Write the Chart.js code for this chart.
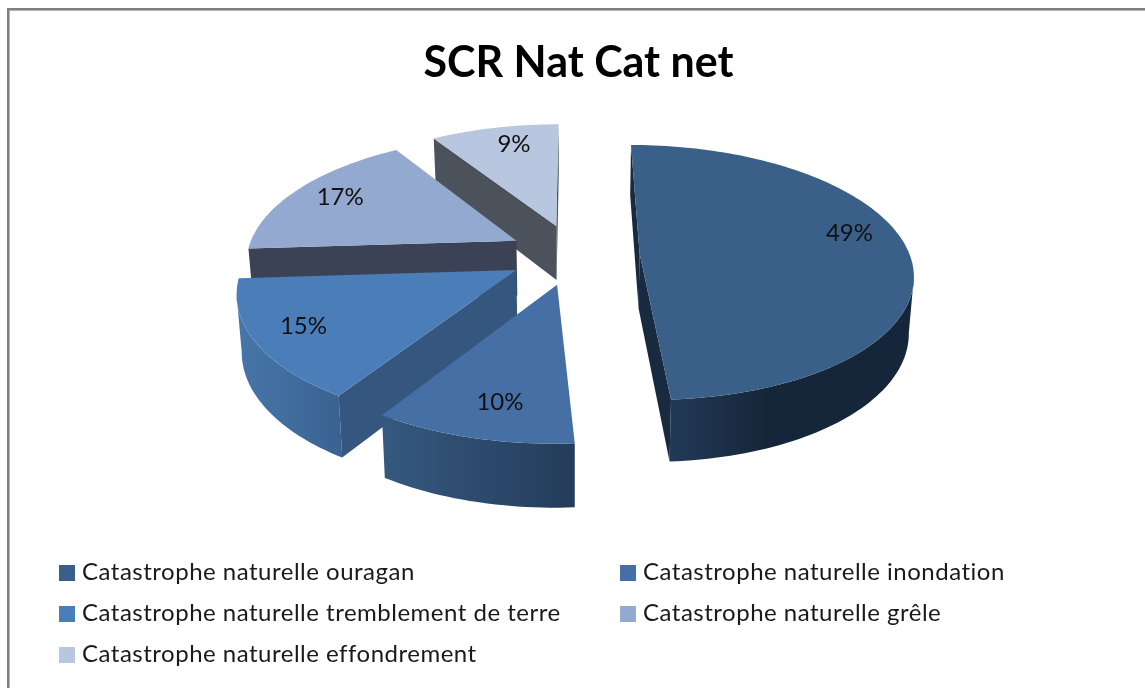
<!DOCTYPE html>
<html>
<head>
<meta charset="utf-8">
<title>SCR Nat Cat net</title>
<script src="https://cdn.jsdelivr.net/npm/chart.js@4"></script>
<style>
  html, body { margin: 0; padding: 0; background: #fff; overflow: hidden; width: 1145px; height: 688px; }
  #sheet { position: absolute; left: 7px; top: 8px; width: 1200px; height: 760px; border: 2px solid #808080; box-shadow: inset 1px 1px 0 #b4b4b4; }
  canvas { position: absolute; left: 0; top: 0; }
</style>
</head>
<body>
<div id="sheet"></div>
<canvas id="myChart" width="1145" height="688"></canvas>
<script>
var categories = [
  "Catastrophe naturelle ouragan",
  "Catastrophe naturelle inondation",
  "Catastrophe naturelle tremblement de terre",
  "Catastrophe naturelle grêle",
  "Catastrophe naturelle effondrement"
];
var shares = [49, 10, 15, 17, 9];

var topColors = ["#3a6089", "#4670a5", "#4b7eb9", "#93a9cf", "#b9c6df"];
var rimColors = [["#223a57", "#16263a"], ["#35597f", "#243c5b"], ["#4776aa", "#3a6291"], ["#3b4255", "#3b4255"], ["#4b525b", "#4b525b"]];
var faceColors = ["#182a40", "#2f5078", "#35567f", "#3b4255", "#4b525b"];
var labelAlong = [0.445, 0.45, 0.52, 0.52, 0.58];
var labelOut = [0.82, 0.79, 0.82, 0.81, 0.8];

// fake 3d: camera looks down on the pie, front of it gets bigger
var pieRadius = 274, squeezeX = 0.985, tilt = 0.4557, viewDist = 1827, depth = 55.3, shiftX = -4.5;

function project(arc, X, Y, down) {
  var s = 1 / (1 - Y / viewDist);
  var cx = arc.x + shiftX;
  var x = cx + X * s * squeezeX;
  var y = arc.y + tilt * Y * s;
  if (down) {
    x = cx + (x - cx) * 0.985;
    y += depth * Math.pow(s, 0.71);
  }
  return { x: x, y: y };
}

function apexOf(arc) {
  var mid = (arc.startAngle + arc.endAngle) / 2;
  var e = arc.options.offset * pieRadius / arc.outerRadius;
  return { X: e * Math.cos(mid), Y: e * Math.sin(mid) };
}

function rimOf(arc, angle) {
  var c = apexOf(arc);
  return { X: c.X + pieRadius * Math.cos(angle), Y: c.Y + pieRadius * Math.sin(angle) };
}

function fillPoly(ctx, pts, fill) {
  ctx.beginPath();
  pts.forEach(function (p, i) { i ? ctx.lineTo(p.x, p.y) : ctx.moveTo(p.x, p.y); });
  ctx.closePath();
  ctx.fillStyle = fill;
  ctx.fill();
}

function drawSlice(ctx, arc, i) {
  var c = apexOf(arc);
  var steps = Math.max(8, Math.round((arc.endAngle - arc.startAngle) * 40));
  var rim = [];
  for (var k = 0; k <= steps; k++) {
    var p = rimOf(arc, arc.startAngle + (arc.endAngle - arc.startAngle) * k / steps);
    rim.push({ top: project(arc, p.X, p.Y, false), low: project(arc, p.X, p.Y, true) });
  }
  var apexTop = project(arc, c.X, c.Y, false);
  var apexLow = project(arc, c.X, c.Y, true);
  var inside = rim[Math.floor(steps / 2)].top;

  // outer wall, only the part that turns to the viewer
  var from = -1, to = -1;
  for (k = 0; k < steps; k++) {
    if (rim[k + 1].top.x < rim[k].top.x) {
      if (from < 0) from = k;
      to = k + 1;
    }
  }
  if (from >= 0) {
    var seg = rim.slice(from, to + 1);
    var wall = seg.map(function (r) { return r.top; }).concat(seg.map(function (r) { return r.low; }).reverse());
    var xs = wall.map(function (p) { return p.x; });
    var grad = ctx.createLinearGradient(Math.min.apply(null, xs), 0, Math.max.apply(null, xs), 0);
    grad.addColorStop(0, rimColors[i][0]);
    grad.addColorStop(i === 0 ? 0.4 : 1, rimColors[i][1]);
    fillPoly(ctx, wall, grad);
  }

  // the two cut faces, if they look at us
  [rim[0], rim[steps]].forEach(function (r) {
    var dx = r.top.x - apexTop.x, dy = r.top.y - apexTop.y;
    var sideIn = dx * (inside.y - apexTop.y) - dy * (inside.x - apexTop.x);
    var sideDown = dx;
    if (sideIn * sideDown < 0) {
      fillPoly(ctx, [apexTop, r.top, r.low, apexLow], faceColors[i]);
    }
  });

  var face = [apexTop].concat(rim.map(function (r) { return r.top; }));
  fillPoly(ctx, face, topColors[i]);
}

var pie3d = {
  id: "pie3d",
  beforeDatasetsDraw: function (chart) {
    var ctx = chart.ctx;
    var arcs = chart.getDatasetMeta(0).data;
    // back to front
    [4, 3, 2, 1, 0].forEach(function (i) { drawSlice(ctx, arcs[i], i); });

    var total = shares.reduce(function (a, b) { return a + b; }, 0);
    ctx.fillStyle = "#111";
    ctx.font = "24px Lato";
    ctx.textAlign = "center";
    ctx.textBaseline = "middle";
    arcs.forEach(function (arc, i) {
      var a = arc.startAngle + (arc.endAngle - arc.startAngle) * labelAlong[i];
      var c = apexOf(arc);
      var r = labelOut[i] * pieRadius;
      var p = project(arc, c.X + r * Math.cos(a), c.Y + r * Math.sin(a), false);
      ctx.fillText(Math.round(shares[i] / total * 100) + "%", p.x, p.y);
    });
    return false;
  },
  afterDraw: function (chart) {
    // legend in two columns
    var ctx = chart.ctx;
    ctx.save();
    ctx.font = "24px Lato";
    ctx.letterSpacing = "0.5px";
    ctx.textAlign = "left";
    ctx.textBaseline = "middle";
    categories.forEach(function (name, i) {
      var col = i % 2, row = Math.floor(i / 2);
      var x = col ? 620 : 59, y = 572 + row * 41;
      ctx.fillStyle = topColors[i];
      ctx.fillRect(x, y - 7, 16, 16);
      ctx.fillStyle = "#1a1a1a";
      ctx.fillText(name, x + 23, y);
    });
    ctx.restore();
  }
};

var ctx = document.getElementById("myChart").getContext("2d");
var myChart = new Chart(ctx, {
  type: "pie",
  data: {
    labels: categories,
    datasets: [{
      data: shares,
      backgroundColor: topColors,
      borderWidth: 0,
      offset: 34
    }]
  },
  options: {
    responsive: false,
    animation: false,
    layout: { padding: { left: 12, bottom: 277 } },
    plugins: {
      legend: { display: false },
      tooltip: { enabled: false },
      title: {
        display: true,
        text: "SCR Nat Cat net",
        color: "#000",
        font: { family: "Lato", size: 43, weight: "bold" },
        padding: { top: 37, bottom: 9 }
      }
    }
  },
  plugins: [pie3d]
});
</script>
</body>
</html>
